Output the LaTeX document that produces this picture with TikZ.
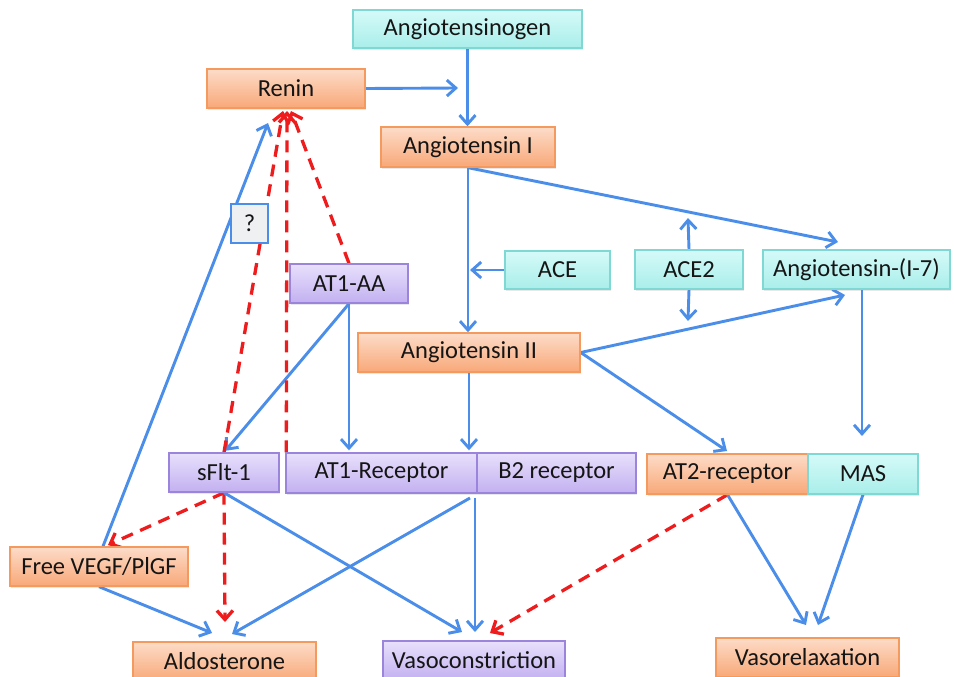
\documentclass[tikz,border=0pt]{standalone}
\usepackage{fontspec}
\setmainfont{Carlito}
\usetikzlibrary{arrows.meta,shadows,calc}

\definecolor{orangetop}{HTML}{FDDCC8}
\definecolor{orangebot}{HTML}{F8A878}
\definecolor{orangeline}{HTML}{F59A5E}
\definecolor{cyantop}{HTML}{D5FAF8}
\definecolor{cyanbot}{HTML}{A9EEEA}
\definecolor{cyanline}{HTML}{80D8D4}
\definecolor{purpletop}{HTML}{E8E0FC}
\definecolor{purplebot}{HTML}{C2B0F0}
\definecolor{purpleline}{HTML}{9B85DC}
\definecolor{flowblue}{HTML}{4A8EEA}
\definecolor{inhibred}{HTML}{EE1C1C}
\definecolor{qfill}{HTML}{EEF0F2}
\definecolor{labeltext}{HTML}{151515}

\pgfdeclarelayer{background}
\pgfsetlayers{background,main}

\tikzset{
  box/.style={rectangle, inner sep=0pt, line width=1.4pt,
    font=\fontsize{24.5}{29}\selectfont, text=labeltext,
    drop shadow={opacity=0.18, shadow xshift=1.2pt, shadow yshift=-1.8pt}},
  orangebox/.style={box, draw=orangeline, top color=orangetop, bottom color=orangebot},
  cyanbox/.style={box, draw=cyanline, top color=cyantop, bottom color=cyanbot},
  purplebox/.style={box, draw=purpleline, top color=purpletop, bottom color=purplebot},
  qbox/.style={rectangle, inner sep=0pt, line width=2.8pt, draw=flowblue, fill=qfill,
    font=\fontsize{24.5}{29}\selectfont, text=labeltext},
  flow/.style={draw=flowblue, line width=2.9pt,
    -{Straight Barb[length=9pt,width=16pt]}},
  inhib/.style={draw=inhibred, line width=3.3pt, dash pattern=on 12pt off 8pt,
    -{Straight Barb[length=9pt,width=16pt]}}
}

\begin{document}
\begin{tikzpicture}[x=1pt,y=-1pt]
  \useasboundingbox (0,0) rectangle (954,677);

  % upper cascade
  \node[cyanbox, minimum width=229pt, minimum height=38pt] (agen) at (467.5,29) {Angiotensinogen};
  \node[orangebox, minimum width=158pt, minimum height=39pt] (renin) at (286,88.5) {Renin};
  \node[orangebox, minimum width=174pt, minimum height=40pt] (angI) at (468,147) {Angiotensin I};
  \node[purplebox, minimum width=118pt, minimum height=39pt] (at1aa) at (349,283.5) {AT1-AA};
  \node[cyanbox, minimum width=105pt, minimum height=38pt] (ace) at (557.5,270) {ACE};
  \node[cyanbox, minimum width=108pt, minimum height=39pt] (ace2) at (689,269.5) {ACE2};
  \node[cyanbox, minimum width=187pt, minimum height=39pt] (ang17) at (856.5,269.5) {Angiotensin-(I-7)};
  \node[orangebox, minimum width=222pt, minimum height=39pt] (angII) at (469,352.5) {Angiotensin II};

  % receptors
  \node[purplebox, minimum width=110pt, minimum height=39pt] (sflt) at (224,472.5) {sFlt-1};
  \node[purplebox, minimum width=191pt, minimum height=40pt] (at1r) at (381.5,473) {AT1-Receptor};
  \node[purplebox, minimum width=159pt, minimum height=40pt] (b2) at (556.5,473) {B2 receptor};
  \node[orangebox, minimum width=161pt, minimum height=40pt] (at2) at (727.5,474) {AT2-receptor};
  \node[cyanbox, minimum width=110pt, minimum height=40pt] (mas) at (863,474) {MAS};

  % effects
  \node[orangebox, minimum width=178pt, minimum height=39pt] (vegf) at (99,566.5) {Free VEGF/PlGF};
  \node[orangebox, minimum width=183pt, minimum height=39pt] (aldo) at (224.5,661.5) {Aldosterone};
  \node[purplebox, minimum width=182pt, minimum height=39pt] (vasoc) at (474,660.5) {Vasoconstriction};
  \node[orangebox, minimum width=183pt, minimum height=39pt] (vasor) at (807.5,657.5) {Vasorelaxation};

  % free arrow ends
  \coordinate (reninIn) at (458,88);
  \coordinate (aceOut) at (470,270);
  \coordinate (ang17InA) at (838,242);
  \coordinate (ang17InB) at (845,295);
  \coordinate (ace2Up) at (688,218);
  \coordinate (ace2Down) at (688,321);
  \coordinate (at2In) at (727,451);
  \coordinate (masIn) at (862,436);
  \coordinate (reninA) at (283,111);
  \coordinate (reninB) at (287,111);
  \coordinate (reninC) at (291,111);
  \coordinate (reninD) at (268,123);
  \coordinate (vegfIn) at (108,545);
  \coordinate (aldoA) at (225,622);
  \coordinate (aldoB) at (232,634);
  \coordinate (aldoC) at (212,633);
  \coordinate (vasocA) at (462,632);
  \coordinate (vasocB) at (475,632);
  \coordinate (vasocC) at (490,633);
  \coordinate (vasorA) at (806,625);
  \coordinate (vasorB) at (818,625);
  \coordinate (junctA) at (470,498);
  \coordinate (junctB) at (475,498);

  \begin{pgfonlayer}{background}
    \fill[white] (0,0) rectangle (954,677);

    % main pathway
    \draw[flow] (agen.south) -- (agen.south |- angI.north);
    \draw[flow] (renin.east) -- (reninIn);
    \draw[flow] (angI.south) -- (angI.south |- angII.north);
    \draw[flow] (ace.west) -- (aceOut);
    \draw[flow] (angI.south) -- (ang17InA);
    \draw[flow] (ace2.north) -- (ace2Up);
    \draw[flow] (ace2.south) -- (ace2Down);
    \draw[flow] (angII.east) -- (ang17InB);
    \draw[flow] (angII.east) -- (at2In);
    \draw[flow] (ang17.south -| masIn) -- (masIn);
    \draw[flow, shorten >=2pt] (at1aa.south) -- (at1aa.south |- at1r.north);
    \draw[flow, shorten >=2pt] (at1aa.south) -- (sflt.north);
    \draw[flow, shorten >=2pt] (angII.south) -- (angII.south |- at1r.north);

    % feedback onto renin
    \draw[inhib] (sflt.north) -- (reninA);
    \draw[inhib] ($(at1r.north west)+(1,0)$) -- (reninB);
    \draw[inhib] (at1aa.north) -- (reninC);
    \draw[flow] ($(vegf.north)+(4,0)$) -- (reninD);

    % downstream effects
    \draw[inhib] (sflt.south) -- (vegfIn);
    \draw[inhib] (sflt.south) -- (aldoA);
    \draw[flow] (sflt.south) -- (vasocA);
    \draw[flow] (junctA) -- (aldoB);
    \draw[flow] (junctB) -- (vasocB);
    \draw[inhib] (at2.south) -- (vasocC);
    \draw[flow] (at2.south) -- (vasorA);
    \draw[flow] (mas.south) -- (vasorB);
    \draw[flow] (vegf.south) -- (aldoC);
  \end{pgfonlayer}

  % unknown link marker
  \node[qbox, minimum width=37pt, minimum height=39pt] (q) at (249.5,223.5) {?};
\end{tikzpicture}
\end{document}
